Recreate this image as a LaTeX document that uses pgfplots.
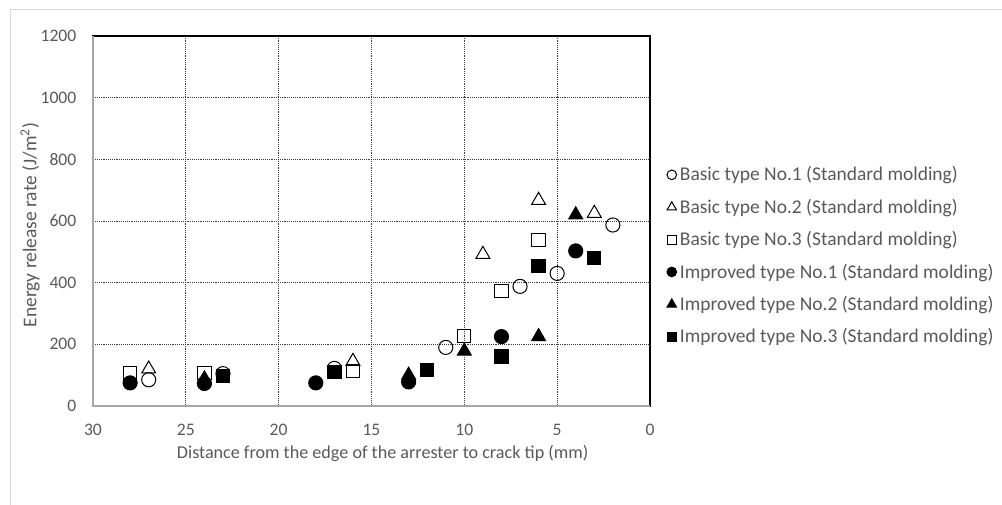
\documentclass[border=0pt]{standalone}
\usepackage{fontspec}
\setmainfont{Carlito}
\usepackage{pgfplots}
\pgfplotsset{compat=1.18}
\definecolor{txt}{HTML}{595959}
\begin{document}
\begin{tikzpicture}
\path[use as bounding box] (0,0) rectangle (751.5pt,378.75pt);
\draw[black!15, line width=0.75pt] (7.5pt,-2pt) -- (7.5pt,371.25pt) -- (753pt,371.25pt);
\begin{axis}[
  at={(69.75pt,74.25pt)}, anchor=south west,
  scale only axis, width=417.75pt, height=277.5pt,
  xmin=0, xmax=30, ymin=0, ymax=1200,
  x dir=reverse,
  xtick={0,5,...,30}, ytick={0,200,...,1200},
  major tick length=0pt,
  grid=major,
  grid style={densely dotted, black!75, line width=0.6pt},
  axis line style={black, line width=1pt},
  tick label style={text=txt, font=\fontsize{13.2pt}{15pt}\selectfont},
  /pgf/number format/assume math mode=true,
  /pgf/number format/1000 sep={},
  xticklabel style={yshift=-10pt},
  yticklabel style={xshift=-9pt},
  xlabel={Distance from the edge of the arrester to crack tip (mm)},
  ylabel={Energy release rate (J/m\textsuperscript{2})},
  xlabel style={text=txt, font=\fontsize{13.6pt}{15pt}\selectfont, at={(axis description cs:0.52,-0.127)}, anchor=center},
  ylabel style={text=txt, font=\fontsize{14.6pt}{16pt}\selectfont, at={(axis description cs:-0.113,0.489)}, anchor=center},
  legend style={at={(axis description cs:1.030,0.651)}, anchor=north west,
    draw=none, fill=none, text=txt, row sep=10.1pt,
    font=\fontsize{14.6pt}{16pt}\selectfont, inner sep=0pt,
    nodes={inner ysep=1pt, inner xsep=2.5pt}},
  legend cell align=left,
  legend image code/.code={\draw[every mark/.append style={scale=0.68}] plot coordinates {(0.1cm,0cm)};},
  every axis plot/.append style={only marks, line width=0.75pt},
  clip=false,
]
\addplot[black, mark=o, mark size=5.3pt, mark options={fill=white}] coordinates {(27,85) (23,105) (17,122) (11,190) (7,388) (5,430) (2,587)};
\addplot[black, mark=triangle, mark size=6pt, mark options={fill=white}] coordinates {(27,120) (16,145) (9,492) (6,667) (3,625)};
\addplot[black, mark=square, mark size=5pt, mark options={fill=white}] coordinates {(28,107) (24,108) (16,113) (10,227) (8,373) (6,538)};
\addplot[black, mark=*, mark size=5.3pt] coordinates {(28,75) (24,73) (18,75) (13,78) (8,225) (4,503)};
\addplot[black, mark=triangle*, mark size=6pt] coordinates {(24,88) (13,100) (10,178) (6,225) (4,620)};
\addplot[black, mark=square*, mark size=5pt] coordinates {(23,97) (17,110) (12,116) (8,160) (6,455) (3,481)};
\legend{Basic type No.1 (Standard molding),Basic type No.2 (Standard molding),Basic type No.3 (Standard molding),Improved type No.1 (Standard molding),Improved type No.2 (Standard molding),Improved type No.3 (Standard molding)}
\draw[black!35, line width=1.5pt] (rel axis cs:0,1) -- (rel axis cs:0,0) -- (rel axis cs:1,0);
\end{axis}
\end{tikzpicture}
\end{document}
